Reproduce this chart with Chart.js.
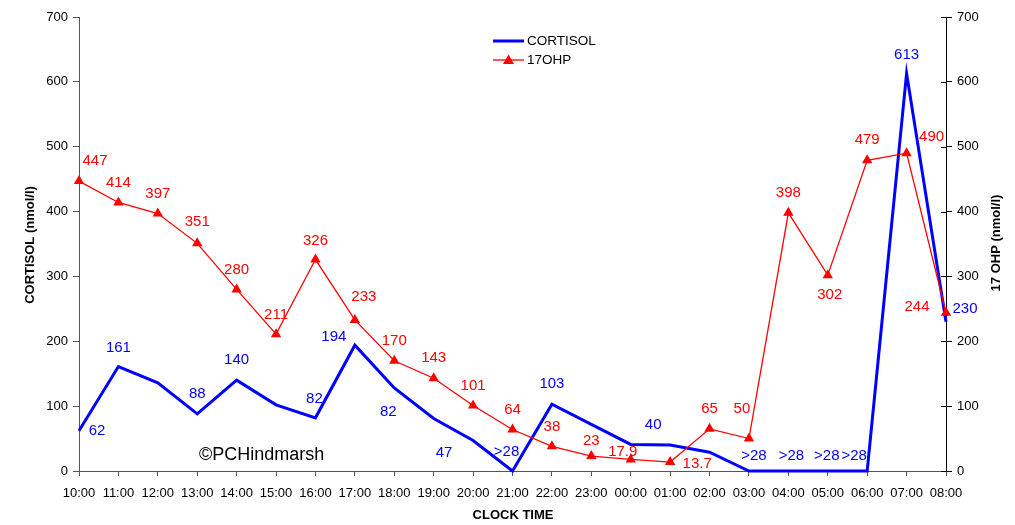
<!DOCTYPE html>
<html>
<head>
<meta charset="utf-8">
<title>Cortisol and 17OHP profile</title>
<script src="https://cdn.jsdelivr.net/npm/chart.js@4.4.1/dist/chart.umd.min.js"></script>
<style>
    body { margin: 0; background: #fff; }
    #wrap { width: 1015px; height: 525px; }
</style>
</head>
<body>
<div id="wrap"><canvas id="profileChart" width="1015" height="525"></canvas></div>
<script>
// ==================== DATA ====================

const clockTimes = ['10:00', '11:00', '12:00', '13:00', '14:00', '15:00', '16:00', '17:00',
    '18:00', '19:00', '20:00', '21:00', '22:00', '23:00', '00:00', '01:00', '02:00', '03:00',
    '04:00', '05:00', '06:00', '07:00', '08:00'];

// CORTISOL (nmol/l) - ">28" points are plotted at 0
const cortisolValues = [62, 161, 136, 88, 140, 102, 82, 194, 128, 81, 47, 0, 103, 72, 41, 40, 29, 0, 0, 0, 0, 613, 230];
const cortisolLabels = ['62', '161', null, '88', '140', null, '82', '194', '82', null, '47', '>28', '103',
    null, null, '40', null, '>28', '>28', '>28', '>28', '613', '230'];

// 17OHP (nmol/l)
const ohpValues = [447, 414, 397, 351, 280, 211, 326, 233, 170, 143, 101, 64, 38, 23, 17.9, 13.7, 65, 50, 398, 302, 479, 490, 244];
const ohpLabels = ['447', '414', '397', '351', '280', '211', '326', '233', '170', '143', '101', '64', '38',
    '23', '17.9', '13.7', '65', '50', '398', '302', '479', '490', '244'];

const axisTicks = [0, 100, 200, 300, 400, 500, 600, 700];

// ==================== LABEL NUDGES (px from the point) ====================

const cortisolNudge = [[18, 0], [0, -19], null, [0, -20], [0, -20], null, [-1, -19], [-21, -8], [-6, 24], null,
    [-29, 12], [-6, -19], [0, -20], null, null, [-17, -20], null, [5, -15], [3, -15], [-1, -15], [-13, -15],
    [0, -19], [19, -13]];
const ohpNudge = [[16, -20], [0, -20], [0, -20], [0, -21], [0, -20], [0, -19], [0, -19], [9, -23], [0, -20],
    [0, -20], [0, -20], [0, -20], [0, -19], [0, -15], [-8, -8], [27, 2], [0, -20], [-7, -30], [0, -20],
    [2, 20], [0, -20], [25, -16], [-29, -6]];

const FONT = '"Liberation Sans", Arial, sans-serif';
const BLUE = '#0000ff';
const RED = '#ff0000';

// Draw value labels next to each point
function drawPointLabels(chart, datasetIndex, labels, nudges, color) {
    const meta = chart.getDatasetMeta(datasetIndex);
    const ctx = chart.ctx;
    ctx.fillStyle = color;
    meta.data.forEach((pt, i) => {
        if (!labels[i] || !nudges[i]) return;
        ctx.fillText(labels[i], pt.x + nudges[i][0], pt.y + nudges[i][1]);
    });
}

// Titles, legend, copyright and label text
const chartExtras = {
    id: 'chartExtras',
    afterDatasetsDraw(chart) {
        const ctx = chart.ctx;
        const area = chart.chartArea;
        ctx.save();

        ctx.font = '15px ' + FONT;
        ctx.textAlign = 'center';
        ctx.textBaseline = 'middle';
        drawPointLabels(chart, 0, ohpLabels, ohpNudge, RED);
        drawPointLabels(chart, 1, cortisolLabels, cortisolNudge, BLUE);

        // copyright
        ctx.fillStyle = '#000';
        ctx.font = '18px ' + FONT;
        ctx.textAlign = 'left';
        ctx.fillText('\u00A9PCHindmarsh', 199, 455);

        // legend
        ctx.font = '13.5px ' + FONT;
        ctx.strokeStyle = BLUE;
        ctx.lineWidth = 3;
        ctx.beginPath(); ctx.moveTo(493, 41); ctx.lineTo(524, 41); ctx.stroke();
        ctx.fillText('CORTISOL', 527, 41);
        ctx.strokeStyle = RED;
        ctx.lineWidth = 1.3;
        ctx.beginPath(); ctx.moveTo(493, 60); ctx.lineTo(524, 60); ctx.stroke();
        ctx.fillStyle = RED;
        ctx.beginPath(); ctx.moveTo(508.5, 54.5); ctx.lineTo(514, 64); ctx.lineTo(503, 64); ctx.closePath(); ctx.fill();
        ctx.fillStyle = '#000';
        ctx.fillText('17OHP', 527, 60);

        // axis titles
        ctx.font = 'bold 13px ' + FONT;
        ctx.textAlign = 'center';
        ctx.fillText('CLOCK TIME', 513, 515);
        ctx.translate(30, 245);
        ctx.rotate(-Math.PI / 2);
        ctx.fillText('CORTISOL (nmol/l)', 0, 0);
        ctx.setTransform(1, 0, 0, 1, 0, 0);
        ctx.translate(996, 243);
        ctx.rotate(-Math.PI / 2);
        ctx.fillText('17 OHP (nmol/l)', 0, 0);
        ctx.restore();

        // right axis ticks cross the axis line
        const y2 = chart.scales.y2;
        ctx.save();
        ctx.strokeStyle = '#000';
        ctx.lineWidth = 1;
        axisTicks.forEach(v => {
            const y = Math.round(y2.getPixelForValue(v)) + 0.5;
            ctx.beginPath(); ctx.moveTo(area.right - 5, y); ctx.lineTo(area.right, y); ctx.stroke();
        });
        ctx.restore();
    }
};

function setTicks(scale) {
    scale.ticks = axisTicks.map(v => ({ value: v }));
}

const tickFont = { family: FONT, size: 13 };

new Chart(document.getElementById('profileChart').getContext('2d'), {
    type: 'line',
    data: {
        labels: clockTimes,
        datasets: [{
            label: '17OHP',
            data: ohpValues,
            yAxisID: 'y2',
            borderColor: RED,
            backgroundColor: RED,
            borderWidth: 1.3,
            pointStyle: 'triangle',
            pointRadius: 6,
            pointBorderWidth: 0,
            tension: 0,
            clip: false,
            order: 0
        }, {
            label: 'CORTISOL',
            data: cortisolValues,
            yAxisID: 'y',
            borderColor: BLUE,
            backgroundColor: BLUE,
            borderWidth: 3,
            pointRadius: 0,
            tension: 0,
            clip: false,
            order: 1
        }]
    },
    options: {
        responsive: false,
        animation: false,
        devicePixelRatio: 1,
        layout: { padding: { top: 17, left: 0, right: 0, bottom: 0 } },
        plugins: {
            legend: { display: false },
            tooltip: { enabled: false }
        },
        scales: {
            x: {
                offset: false,
                grid: { drawOnChartArea: false, drawTicks: true, tickLength: 5, color: '#555' },
                border: { display: true, color: '#555' },
                ticks: { font: tickFont, color: '#000', padding: 10, maxRotation: 0, autoSkip: false },
                afterFit(scale) { scale.height = 54; }
            },
            y: {
                position: 'left',
                min: 0, max: 700,
                afterBuildTicks: setTicks,
                grid: { drawOnChartArea: false, drawTicks: true, tickLength: 6, color: '#555' },
                border: { display: true, color: '#555' },
                ticks: { font: tickFont, color: '#000', padding: 5 },
                afterFit(scale) { scale.width = 79; }
            },
            y2: {
                position: 'right',
                min: 0, max: 700,
                afterBuildTicks: setTicks,
                grid: { drawOnChartArea: false, drawTicks: true, tickLength: 6, color: '#000' },
                border: { display: true, color: '#000' },
                ticks: { font: tickFont, color: '#000', padding: 5 },
                afterFit(scale) { scale.width = 69; }
            }
        }
    },
    plugins: [chartExtras]
});
</script>
</body>
</html>
